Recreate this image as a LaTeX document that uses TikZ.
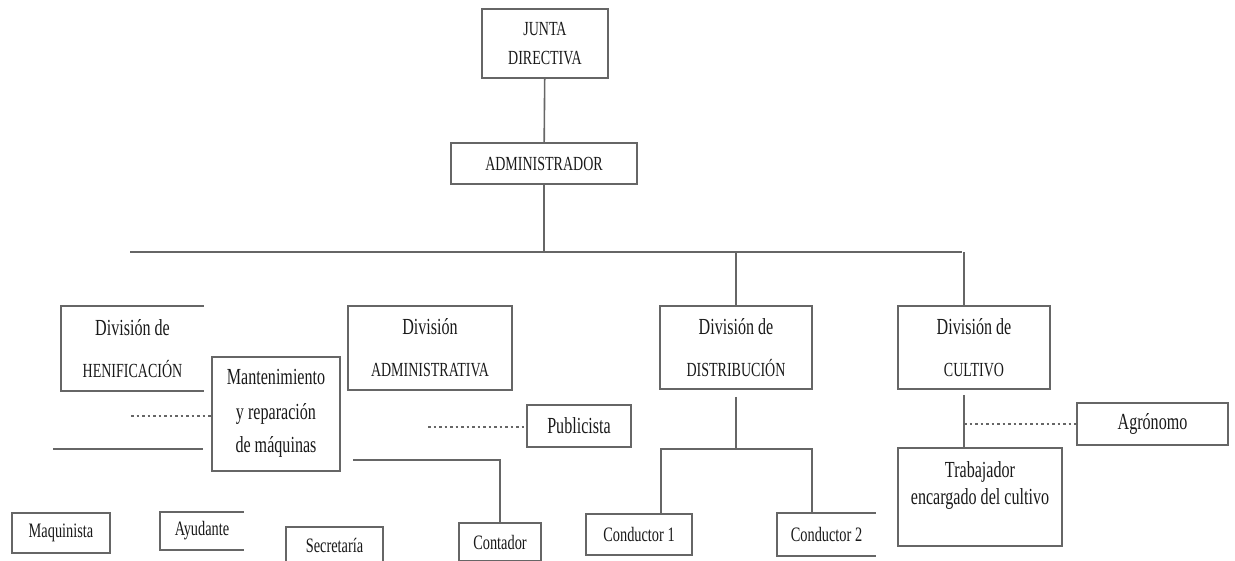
\documentclass[tikz,border=0pt]{standalone}
\usepackage{fontspec}
\setmainfont{Liberation Serif}[FakeStretch=0.7]
\usetikzlibrary{calc}
\newcommand\txtmin{\fontsize{23}{27}\selectfont}
\newcommand\txtmay{\fontsize{20}{27}\selectfont}
\newcommand\txtpeq{\fontsize{20.5}{24}\selectfont}

\begin{document}
\begin{tikzpicture}[x=1pt,y=-1pt,
    caja/.style={draw=black!60,line width=1.6pt,inner sep=0pt,align=center,font=\txtmin,text=black!90},
    abierta/.style={caja,draw=none},
    linea/.style={draw=black!60,line width=1.6pt},
    punteada/.style={draw=black!60,line width=1.4pt,dash pattern=on 2.5pt off 3pt}]
    \useasboundingbox (0,0) rectangle (1235,560);
    \clip (0,0) rectangle (1235,560);

    \node[caja,font=\fontsize{20}{29}\selectfont,minimum width=126pt,minimum height=69pt] (junta) at (545,43.5) {JUNTA\\DIRECTIVA};
    \node[caja,font=\txtmay,minimum width=186pt,minimum height=41pt] (admin) at (544,163.5) {ADMINISTRADOR};

    \node[abierta,minimum width=141pt,minimum height=83pt] (hen) at (132.5,348.5) {División de\\[15pt]{\txtmay HENIFICACIÓN}};
    \node[caja,minimum width=164pt,minimum height=84pt] (adm) at (430,348) {División\\[15pt]{\txtmay ADMINISTRATIVA}};
    \node[caja,minimum width=152pt,minimum height=83pt] (dist) at (736,347.5) {División de\\[15pt]{\txtmay DISTRIBUCIÓN}};
    \node[caja,minimum width=152pt,minimum height=83pt] (cult) at (974,347.5) {División de\\[15pt]{\txtmay CULTIVO}};

    \node[caja,minimum width=128pt,minimum height=114pt] (mant) at (276,414) {Mantenimiento\\[8pt]y reparación\\[6pt]de máquinas\\[-21pt]\mbox{}};
    \node[caja,minimum width=104pt,minimum height=42pt] (publ) at (579,426) {Publicista};
    \node[caja,minimum width=151pt,minimum height=42pt] (agro) at (1152.5,424) {Agrónomo};
    \node[caja,minimum width=164pt,minimum height=98pt] (trab) at (980,497) {Trabajador\\encargado del cultivo\\\mbox{}};

    \node[caja,font=\txtpeq,minimum width=98pt,minimum height=40pt] (maq) at (61,533) {Maquinista};
    \node[abierta,font=\txtpeq,minimum width=82pt,minimum height=36pt] (ayud) at (202,531) {Ayudante};
    \node[caja,font=\txtpeq,minimum width=97pt,minimum height=36pt] (secr) at (334.5,545) {Secretaría};
    \node[caja,font=\txtpeq,minimum width=82pt,minimum height=38pt] (cont) at (500,542) {Contador};
    \node[caja,font=\txtpeq,minimum width=106pt,minimum height=41pt] (cond1) at (639,534.5) {Conductor 1};
    \node[abierta,font=\txtpeq,minimum width=97pt,minimum height=41pt] (cond2) at (826.5,534.5) {Conductor 2};

    \foreach \c in {hen,ayud,cond2}
        \draw[linea] (\c.north east) -- (\c.north west) -- (\c.south west) -- (\c.south east);

    \coordinate (busizq) at (130,252);
    \coordinate (busder) at (962,252);
    \coordinate (ejecult) at (964,252);
    \coordinate (ejedist) at (737,449);
    \coordinate (ramaizq) at (661,449);
    \coordinate (ramader) at (812,449);
    \coordinate (puntmant) at (131,416);
    \coordinate (hizq) at (53,449);
    \coordinate (hder) at (203,449);
    \coordinate (cizq) at (353,460);
    \coordinate (puntpubl) at (428,427);

    \draw[linea] (junta) -- (admin);
    \draw[linea] (admin.south) -- (admin.south |- busizq);
    \draw[linea] (busizq) -- (busder);
    \draw[linea] (dist.north |- busizq) -- (dist.north);
    \draw[linea] (ejecult) -- (ejecult |- cult.north);

    \draw[linea] ($(dist.south)+(0,7)$) -- (dist.south |- ejedist);
    \draw[linea] (ramaizq |- cond1.north) -- (ramaizq) -- (ramader) -- (ramader |- cond2.north);
    \draw[linea] ($(ejecult |- cult.south)+(0,5)$) -- (ejecult |- trab.north);
    \draw[punteada] (ejecult |- agro.west) -- (agro.west);

    \draw[punteada] (puntmant) -- (puntmant -| mant.west);
    \draw[linea] (hizq) -- (hder);
    \draw[linea] (cizq) -| (cont.north);
    \draw[punteada] (puntpubl) -- (puntpubl -| publ.west);
\end{tikzpicture}
\end{document}
